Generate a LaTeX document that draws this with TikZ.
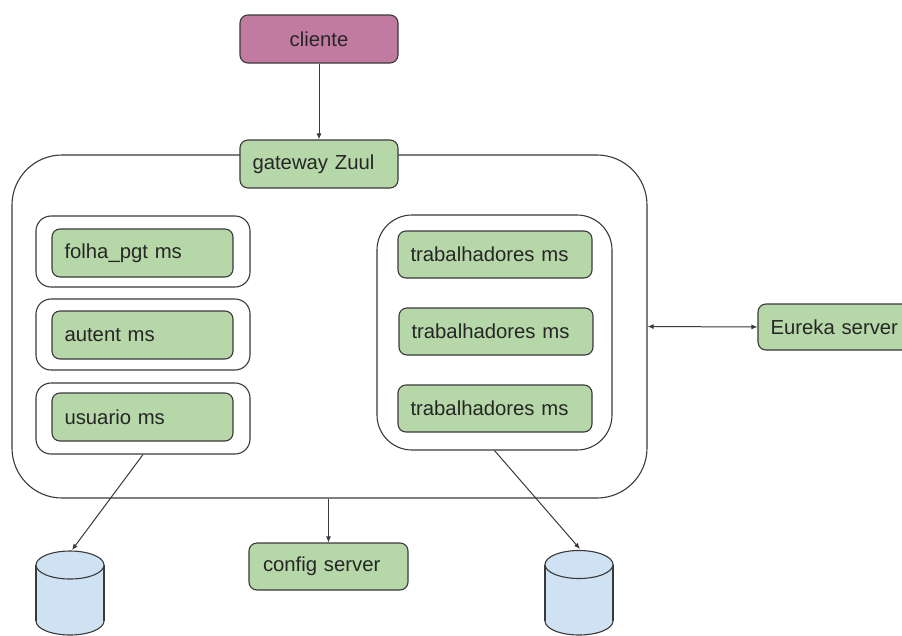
\documentclass[tikz,border=0pt]{standalone}
\usepackage{fontspec}
\setmainfont{Liberation Sans}
\usetikzlibrary{arrows.meta}
\definecolor{gfill}{HTML}{B6D7A8}
\definecolor{pfill}{HTML}{C27BA0}
\definecolor{bfill}{HTML}{CFE2F3}
\definecolor{bord}{HTML}{3A3A3A}
\tikzset{
  base/.style={draw=bord, line width=1.1pt, rounded corners=8pt, font=\fontsize{20.3}{24}\selectfont, text=black!85},
  gbox/.style={base, fill=gfill, align=left, inner xsep=12.5pt, inner ysep=0pt},
  pbox/.style={base, fill=pfill, align=center, inner sep=0pt},
  cont/.style={draw=bord, line width=1.1pt, fill=white, inner sep=0pt},
  conn/.style={draw=bord, line width=1pt, -{Latex[length=6pt,width=5pt]}},
  dconn/.style={draw=bord, line width=1pt, {Latex[length=6pt,width=5pt]}-{Latex[length=6pt,width=5pt]}},
  dbshape/.style={draw=bord, line width=1.1pt, fill=bfill}
}
\begin{document}
\begin{tikzpicture}[x=1pt,y=-1pt]
\clip (0,0) rectangle (902,635);
\fill[white] (0,0) rectangle (902,635);

% big container
\node[cont, rounded corners=50pt, minimum width=635pt, minimum height=343pt] (big) at (329.5,326.5) {};
% left containers
\node[cont, rounded corners=15pt, minimum width=214pt, minimum height=71pt] (lc1) at (143,251.5) {};
\node[cont, rounded corners=15pt, minimum width=214pt, minimum height=71pt] (lc2) at (143,334.5) {};
\node[cont, rounded corners=15pt, minimum width=214pt, minimum height=71pt] (lc3) at (143,418.5) {};
% right container
\node[cont, rounded corners=35pt, minimum width=235pt, minimum height=235pt] (rc) at (494.5,332.5) {};

% boxes
\node[pbox, minimum width=158pt, minimum height=48pt] (cli) at (319,39) {cliente};
\node[gbox, text width=133pt, minimum height=48pt] (gw) at (319,164) {gateway Zuul};
\node[gbox, text width=156pt, minimum height=48pt, inner xsep=12.5pt] (folha) at (142.5,253) {folha\_pgt ms};
\node[gbox, text width=156pt, minimum height=48pt] (autent) at (142.5,335) {autent ms};
\node[gbox, text width=156pt, minimum height=48pt] (usuario) at (142.5,417) {usuario ms};
\node[gbox, text width=169pt, minimum height=47pt] (trab1) at (495,254.5) {trabalhadores ms};
\node[gbox, text width=169pt, minimum height=47pt] (trab2) at (496,331.5) {trabalhadores ms};
\node[gbox, text width=169pt, minimum height=47pt] (trab3) at (495,408.5) {trabalhadores ms};
\node[gbox, text width=137pt, minimum height=46pt] (eureka) at (839,327) {Eureka server};
\node[gbox, text width=131pt, minimum height=47pt, inner xsep=14pt] (config) at (328.5,566.5) {config server};

% databases
\coordinate (db1) at (72,550);
\coordinate (db2) at (580,549);
\foreach \cx/\ty in {70/565, 579/564.5}{
  \draw[dbshape] (\cx,621) ellipse [x radius=34pt, y radius=14pt];
  \fill[bfill] (\cx-34,\ty) rectangle (\cx+34,621);
  \draw[draw=bord, line width=1.1pt] (\cx-34,\ty) -- (\cx-34,621) (\cx+34,\ty) -- (\cx+34,621);
  \draw[dbshape] (\cx,\ty) ellipse [x radius=34pt, y radius=14pt];
}

% connectors
\draw[conn] (cli.south) -- (gw.north);
\draw[dconn] (big.east) -- (eureka.west);
\draw[conn] (config.north |- big.south) -- (config.north);
\draw[conn] (lc3.south) -- (db1);
\draw[conn] (rc.south) -- (db2);
\end{tikzpicture}
\end{document}
